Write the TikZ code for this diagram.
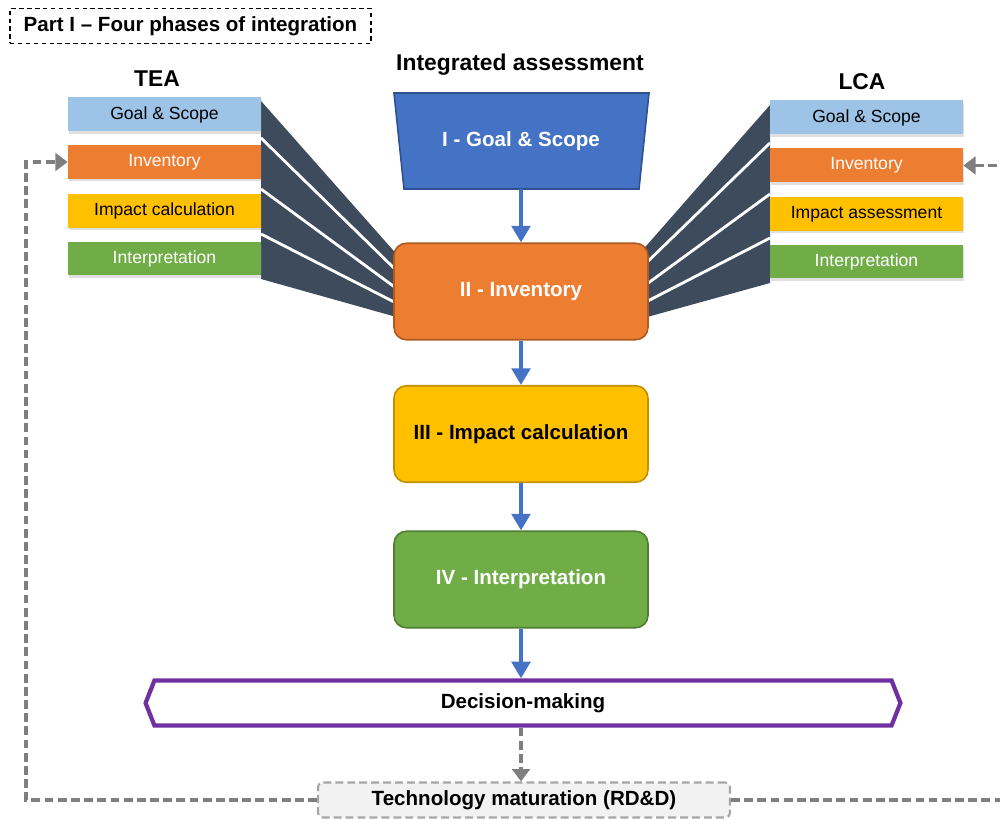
\documentclass[tikz,border=0pt]{standalone}
\usepackage{fontspec}
\setmainfont{Liberation Sans}
\usetikzlibrary{arrows.meta,positioning,shapes.symbols,shadows}
\definecolor{gsblue}{HTML}{9DC3E6}
\definecolor{invorange}{HTML}{ED7D31}
\definecolor{impyellow}{HTML}{FFC000}
\definecolor{intgreen}{HTML}{70AD47}
\definecolor{slate}{HTML}{3D4B5D}
\definecolor{phblue}{HTML}{4472C4}
\definecolor{phblueline}{HTML}{2F528F}
\definecolor{orangeline}{HTML}{AE5A21}
\definecolor{yellowline}{HTML}{BF9000}
\definecolor{greenline}{HTML}{507E32}
\definecolor{decpurple}{HTML}{7030A0}
\definecolor{techfill}{HTML}{F2F2F2}
\definecolor{techline}{HTML}{A6A6A6}
\definecolor{fbgray}{HTML}{7F7F7F}

\begin{document}
\begin{tikzpicture}[x=0.02cm, y=-0.02cm,
  sub/.style={minimum width=3.86cm, minimum height=0.68cm, inner sep=0pt,
    font=\fontsize{10}{12}\selectfont,
    drop shadow={shadow xshift=0.6pt, shadow yshift=-1.2pt, opacity=0.25}},
  ph/.style={minimum width=5.08cm, minimum height=1.93cm, inner sep=0pt,
    rounded corners=7pt, line width=0.9pt, font=\fontsize{11.7}{14}\bfseries},
  lbl/.style={font=\fontsize{13}{15}\bfseries},
  fan/.style={fill=slate},
  gap/.style={white, line width=1.6pt},
  arr/.style={-{Triangle[length=9.5pt, width=10.5pt]}, phblue, line width=2.8pt},
  fb/.style={-{Triangle[length=7pt, width=10pt]}, fbgray, line width=1.8pt,
    dash pattern=on 5pt off 2.5pt}]
  \useasboundingbox (0,0) rectangle (1000,820);

  % heading
  \node[draw, dash pattern=on 2.5pt off 2pt, line width=0.7pt, minimum width=7.22cm,
    minimum height=0.7cm, font=\fontsize{11.7}{14}\bfseries] (part) at (190.5,26)
    {Part I -- Four phases of integration};
  \node[lbl] (tea) at (157,79) {TEA};
  \node[lbl] (ia) at (520,65) {Integrated assessment};
  \node[lbl] (lca) at (862,82) {LCA};

  % fans
  \fill[fan] (261,101) -- (400,258) -- (400,318) -- (261,279) -- cycle;
  \draw[gap] (261,138) -- (400,274);
  \draw[gap] (261,189) -- (400,291);
  \draw[gap] (261,234) -- (400,305);
  \fill[fan] (770,105) -- (640,253) -- (640,319) -- (770,283) -- cycle;
  \draw[gap] (770,143) -- (640,269);
  \draw[gap] (770,194) -- (640,289);
  \draw[gap] (770,238) -- (640,305);

  % TEA
  \node[sub, fill=gsblue] (tgoal) at (164.5,114.5) {Goal \& Scope};
  \node[sub, fill=invorange, text=white] (tinv) at (164.5,162) {Inventory};
  \node[sub, fill=impyellow] (timp) at (164.5,211) {Impact calculation};
  \node[sub, fill=intgreen, text=white] (tint) at (164.5,258.5) {Interpretation};

  % LCA
  \node[sub, fill=gsblue] (lgoal) at (866.5,117.5) {Goal \& Scope};
  \node[sub, fill=invorange, text=white] (linv) at (866.5,165.5) {Inventory};
  \node[sub, fill=impyellow] (limp) at (866.5,214) {Impact assessment};
  \node[sub, fill=intgreen, text=white] (lint) at (866.5,261.5) {Interpretation};

  % phases
  \filldraw[fill=phblue, draw=phblueline, line width=0.9pt]
    (394,93) -- (649,93) -- (639,189) -- (404,189) -- cycle;
  \node[minimum height=1.92cm, inner sep=0pt, text=white,
    font=\fontsize{11.7}{14}\bfseries] (p1) at (521,141) {I - Goal \& Scope};
  \node[ph, draw=orangeline, fill=invorange, text=white] (p2) at (521,291.5) {II - Inventory};
  \node[ph, draw=yellowline, fill=impyellow] (p3) at (521,434) {III - Impact calculation};
  \node[ph, draw=greenline, fill=intgreen, text=white] (p4) at (521,579.5) {IV - Interpretation};

  \node[signal, signal to=east and west, signal pointer angle=137, draw=decpurple,
    line width=2.4pt, fill=white, minimum width=15.1cm, minimum height=0.9cm,
    inner sep=0pt, font=\fontsize{11.7}{14}\bfseries] (dec) at (523,703) {Decision-making};

  \node[draw=techline, fill=techfill, line width=1.2pt, dash pattern=on 4.5pt off 2.3pt,
    rounded corners=2.5pt, minimum width=8.24cm, minimum height=0.7cm, inner sep=0pt,
    font=\fontsize{11.7}{14}\bfseries] (tech) at (524,800) {Technology maturation (RD\&D)};

  \foreach \a/\b in {p1/p2,p2/p3,p3/p4,p4/dec} {\draw[arr] (\a.south) -- (\a.south |- \b.north);}
  \draw[fb] (p4.south |- dec.south) -- (p4.south |- tech.north);
  \draw[fb] (tech.west) -- ++(-291,0) |- (tinv.west);
  \draw[fb] (tech.east) -- ++(290,0) |- (linv.east);
\end{tikzpicture}
\end{document}
